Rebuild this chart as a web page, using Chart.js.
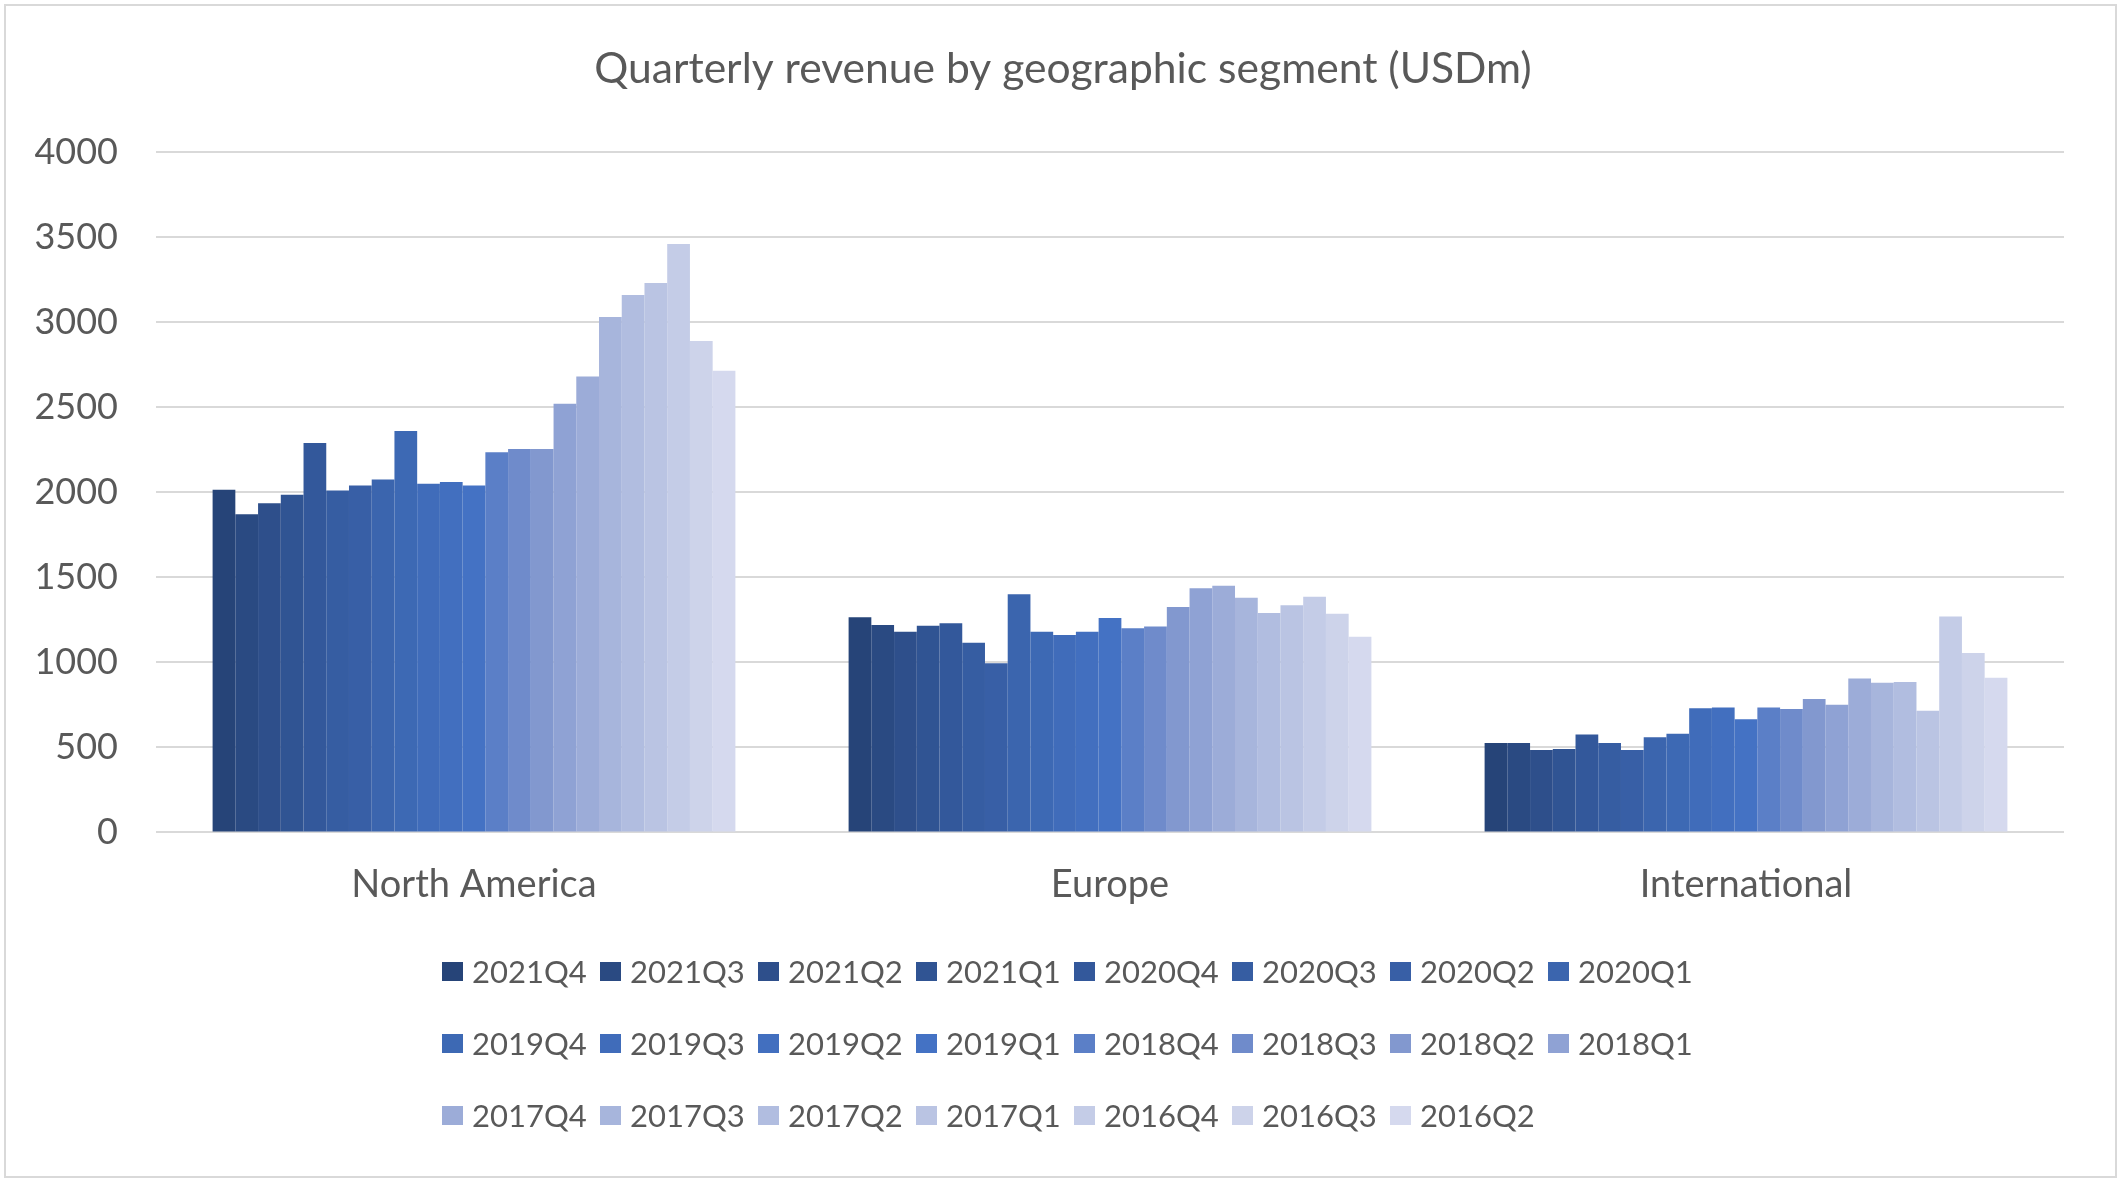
<!DOCTYPE html>
<html><head><meta charset="utf-8">
<script src="https://cdn.jsdelivr.net/npm/chart.js@4/dist/chart.umd.min.js"></script>
<style>
html,body{margin:0;padding:0;background:#fff;}
#wrap{position:relative;width:2126px;height:1182px;overflow:hidden;background:#fff;}
#frame{position:absolute;left:4px;top:4px;width:2109px;height:1170px;border:2px solid #d9d9d9;pointer-events:none;}
canvas{position:absolute;left:0;top:0;}
#legend{position:absolute;left:0;top:0;width:2126px;height:1182px;font-family:Lato,sans-serif;font-size:31px;color:#595959;pointer-events:none;}
.item{position:absolute;display:flex;align-items:center;height:40px;white-space:nowrap;line-height:40px;}
.box{width:21px;height:19px;margin-right:9px;flex:none;}
</style></head>
<body><div id="wrap"><canvas id="c" width="2126" height="1182"></canvas><div id="frame"></div><div id="legend"></div></div>
<script>
const categories = ['North America', 'Europe', 'International'];
const quarters = ['2021Q4','2021Q3','2021Q2','2021Q1','2020Q4','2020Q3','2020Q2','2020Q1',
                  '2019Q4','2019Q3','2019Q2','2019Q1','2018Q4','2018Q3','2018Q2','2018Q1',
                  '2017Q4','2017Q3','2017Q2','2017Q1','2016Q4','2016Q3','2016Q2'];
const northAmerica = [2015,1870,1935,1985,2290,2010,2040,2075,2360,2050,2060,2040,2235,2255,2255,2520,2680,3030,3160,3230,3460,2890,2715];
const europe       = [1265,1220,1180,1215,1230,1115,995,1400,1180,1160,1180,1260,1200,1210,1325,1435,1450,1380,1290,1335,1385,1285,1150];
const international= [525,525,485,490,575,525,485,560,580,730,735,665,735,725,785,750,905,880,885,715,1270,1055,910];
const yTicks = [0,500,1000,1500,2000,2500,3000,3500,4000];
const palette = ['#264478','#2A4A82','#2E4F8B','#305493','#33589B','#365DA2','#385FA6','#3B65AE',
                 '#3D69B4','#406CBA','#426FBF','#4472C4','#5B7FC7','#6F8BCB','#8298CF','#8FA2D4',
                 '#9CACD8','#A7B5DC','#B1BDE0','#BAC4E3','#C4CCE7','#CDD3EA','#D5D9EE'];
const titleText = 'Quarterly revenue by geographic segment (USDm)';

function draw(){
  const datasets = quarters.map((q, i) => ({
    label: q,
    data: [northAmerica[i], europe[i], international[i]],
    backgroundColor: palette[i],
    borderWidth: 0,
    barPercentage: 1.0,
    categoryPercentage: 0.822
  }));
  const chart = new Chart(document.getElementById('c'), {
    type: 'bar',
    data: { labels: categories, datasets },
    options: {
      responsive: false,
      animation: false,
      devicePixelRatio: 1,
      layout: { padding: { left: 0, right: 0, top: 0, bottom: 252 } },
      plugins: {
        legend: { display: false },
        tooltip: { enabled: false },
        title: {
          display: true, text: titleText, color: '#595959',
          font: { family: 'Lato', size: 42.6, weight: 'normal' },
          padding: { top: 44, bottom: 57 }
        }
      },
      scales: {
        x: {
          grid: { display: false }, border: { display: false },
          ticks: { color: '#595959', font: { family: 'Lato', size: 38 }, padding: 22 }
        },
        y: {
          min: 0, max: 4000,
          border: { display: false },
          grid: { color: '#d9d9d9', lineWidth: 2, drawTicks: false },
          ticks: { color: '#595959', font: { family: 'Lato', size: 36 }, padding: 38,
                   callback: v => String(v) },
          afterBuildTicks: s => { s.ticks = yTicks.map(v => ({ value: v })); },
          afterFit: s => { s.width = 156; }
        },
        yRight: {
          position: 'right', min: 0, max: 4000,
          border: { display: false }, grid: { display: false },
          ticks: { display: false },
          afterFit: s => { s.width = 62; }
        }
      }
    }
  });
  // HTML legend built from the chart's datasets
  const leg = document.getElementById('legend');
  const rowY = [951, 1023, 1095];
  chart.data.datasets.forEach((ds, i) => {
    const row = Math.floor(i / 8), col = i % 8;
    const it = document.createElement('div');
    it.className = 'item';
    it.style.left = (442 + col * 158) + 'px';
    it.style.top = rowY[row] + 'px';
    const b = document.createElement('span'); b.className = 'box'; b.style.background = ds.backgroundColor;
    const t = document.createElement('span'); t.textContent = ds.label;
    it.appendChild(b); it.appendChild(t); leg.appendChild(it);
  });
}
document.fonts.load('44px Lato').then(draw, draw);
</script>
</body></html>
